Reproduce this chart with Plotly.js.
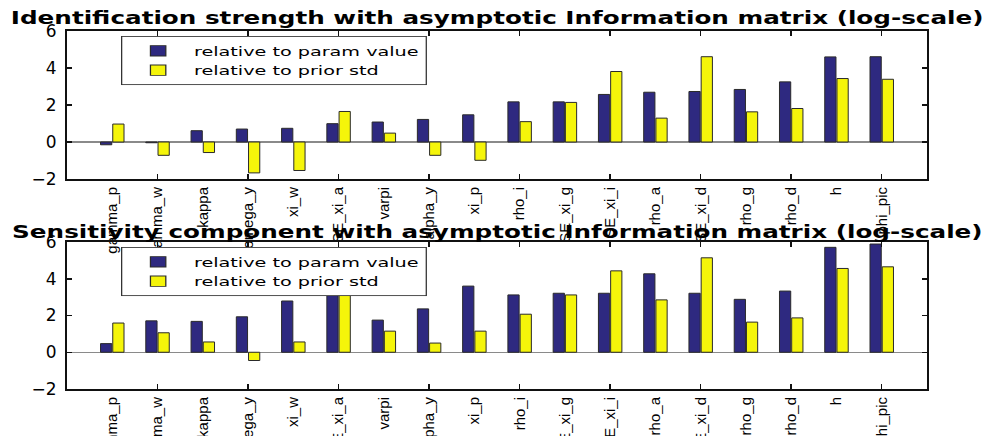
<!DOCTYPE html>
<html>
<head>
<meta charset="utf-8">
<script src="https://cdn.plot.ly/plotly-3.0.1.min.js"></script>
<style>html,body{margin:0;padding:0;background:#fff;}</style>
</head>
<body>
<div id="chart" style="width:988px;height:436px;"></div>
<script>
const params = ['gamma_p','gamma_w','kappa','omega_y','xi_w','SE_xi_a','varpi','alpha_y','xi_p','rho_i','SE_xi_g','SE_xi_i','rho_a','SE_xi_d','rho_g','rho_d','h','phi_pic'];
const identParam = [-0.15,-0.04,0.61,0.70,0.74,0.99,1.08,1.22,1.47,2.17,2.17,2.57,2.69,2.73,2.84,3.25,4.60,4.61];
const identPrior = [0.97,-0.72,-0.57,-1.67,-1.54,1.65,0.48,-0.72,-0.99,1.10,2.14,3.81,1.29,4.61,1.63,1.81,3.43,3.39];
const sensParam = [0.47,1.71,1.68,1.93,2.79,3.21,1.75,2.36,3.60,3.12,3.21,3.21,4.27,3.21,2.88,3.33,5.71,5.89];
const sensPrior = [1.59,1.06,0.56,-0.45,0.56,3.87,1.15,0.50,1.15,2.07,3.12,4.43,2.85,5.14,1.64,1.87,4.56,4.65];
const seriesNames = ['relative to param value','relative to prior std'];
const titles = ['Identification strength with asymptotic Information matrix (log-scale)',
                'Sensitivity component with asymptotic Information matrix (log-scale)'];
const yTicks = [-2,0,2,4,6];

const xPos = params.map((_, i) => i + 1);
const evenTicks = xPos.filter(v => v % 2 === 0);
const BLUE = '#2e2980', YELLOW = '#f5f50a', EDGE = '#2a2a2a';

function bar(y, name, color, xa, ya, legend) {
  return {type:'bar', x:xPos, y:y, name:name, xaxis:xa, yaxis:ya, legend:legend,
          marker:{color:color, line:{color:EDGE, width:1}}, hoverinfo:'skip'};
}
const data = [
  bar(identParam, seriesNames[0], BLUE, 'x', 'y', 'legend'),
  bar(identPrior, seriesNames[1], YELLOW, 'x', 'y', 'legend'),
  bar(sensParam, seriesNames[0], BLUE, 'x2', 'y2', 'legend2'),
  bar(sensPrior, seriesNames[1], YELLOW, 'x2', 'y2', 'legend2')
];

function xax(anchor) {
  return {anchor:anchor, domain:[0,1], range:[0,19], tickmode:'array', tickvals:xPos, ticktext:params,
    tickangle:-90, ticks:'', showline:true, linecolor:'#111', linewidth:2, mirror:'allticks',
    showgrid:false, zeroline:false, fixedrange:true,
    tickfont:{family:'Liberation Sans, Arial, sans-serif', size:15, color:'#000'},
    minor:{tickmode:'array', tickvals:evenTicks, ticks:'inside', ticklen:5, tickwidth:1.5, tickcolor:'#111', showgrid:false}};
}
function yax(anchor, domain) {
  return {anchor:anchor, domain:domain, range:[-2,6], tickmode:'array', tickvals:yTicks,
    ticks:'inside', ticklen:5, tickwidth:1.5, tickcolor:'#111', showline:true, linecolor:'#111', linewidth:2,
    mirror:'allticks', showgrid:false, zeroline:true, zerolinecolor:'#8a8a8a', zerolinewidth:1.5,
    ticklabelstandoff:5, fixedrange:true,
    tickfont:{family:'DejaVu Sans, sans-serif', size:17, color:'#000'}};
}
function leg(y) {
  return {x:0.0628, y:y, xanchor:'left', yanchor:'top', bgcolor:'#fff', bordercolor:'#333', borderwidth:1,
    font:{family:'DejaVu Sans, sans-serif', size:15, color:'#000'}, itemwidth:46, tracegroupgap:0,
    traceorder:'normal'};
}
function ttl(text, y) {
  return {text:text, xref:'paper', yref:'paper', x:0.5, y:y, xanchor:'center', yanchor:'middle', showarrow:false,
    font:{family:'DejaVu Sans, sans-serif', size:18, weight:'bold', color:'#000'}};
}

const layout = {
  width:988, height:436,
  margin:{l:67, r:61, t:31, b:47},
  paper_bgcolor:'#fff', plot_bgcolor:'#fff',
  barmode:'group', bargap:0.46, bargroupgap:0.08,
  showlegend:true,
  xaxis:xax('y'), yaxis:yax('x',[0.5866,1]),
  xaxis2:xax('y2'), yaxis2:yax('x2',[0,0.4106]),
  legend:leg(0.986), legend2:leg(0.3966),
  annotations:[ttl(titles[0], 1.037), ttl(titles[1], 0.441)]
};

// The reference figure is horizontally stretched; widen the texts to match.
function stretchTexts() {
  document.querySelectorAll('#chart text.annotation-text').forEach(el => {
    const b = el.getBBox();
    const cx = b.x + b.width / 2;
    const prev = el.getAttribute('transform') || '';
    el.setAttribute('transform', prev + ' translate(' + cx + ',0) scale(1.37,1) translate(' + (-cx) + ',0)');
  });
  document.querySelectorAll('#chart g.legend, #chart g.legend2').forEach(g => {
    const prev = g.getAttribute('transform') || '';
    g.setAttribute('transform', prev + ' scale(1.28,0.86)');
  });
}
Plotly.newPlot('chart', data, layout, {displayModeBar:false, staticPlot:true}).then(stretchTexts);
</script>
</body>
</html>
